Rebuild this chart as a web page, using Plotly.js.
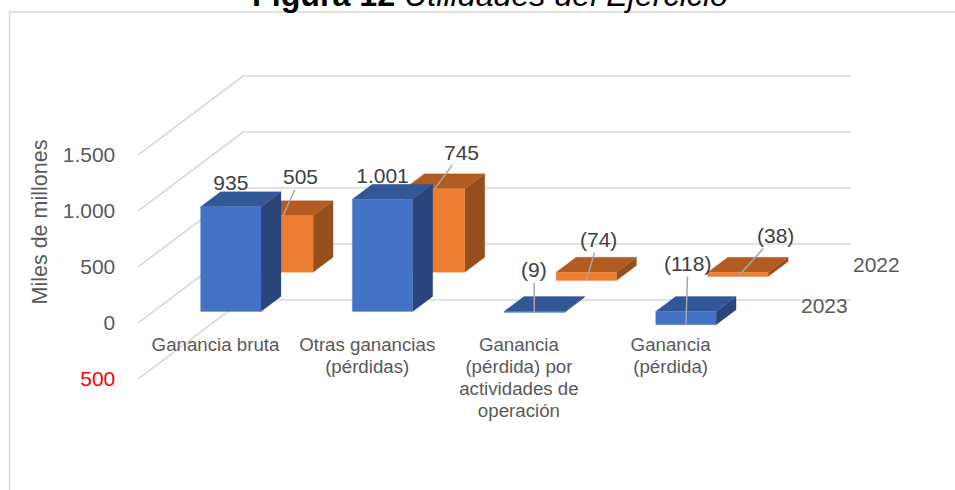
<!DOCTYPE html>
<html>
<head>
<meta charset="utf-8">
<script src="https://cdn.plot.ly/plotly-3.0.1.min.js"></script>
<style>html,body{margin:0;padding:0;background:#fff;overflow:hidden}</style>
</head>
<body>
<div id="chart" style="width:955px;height:490px"></div>
<script>
// ---- data ----
const categories = ["Ganancia bruta", "Otras ganancias<br>(pérdidas)", "Ganancia<br>(pérdida) por<br>actividades de<br>operación", "Ganancia<br>(pérdida)"];
const values2023 = [935, 1001, -9, -118];
const values2022 = [505, 745, -74, -38];
const seriesNames = ["2022", "2023"];
const gridValues = [-500, 0, 500, 1000, 1500];
const gridLabels = ['<span style="color:#ff0000">500</span>', "0", "500", "1.000", "1.500"];
const labels2023 = ["935", "1.001", "(9)", "(118)"];
const labels2022 = ["505", "745", "(74)", "(38)"];

// ---- oblique projection of the 3D column chart, in axis units ----
const PX_X = 151.7, PX_V = 0.112;        // pixels per category, pixels per value unit
const DEPTH_X = 105 / PX_X, DEPTH_V = 79 / PX_V;
const HALF = 30.2 / PX_X;
const WALL_X = (138 - 215.5) / PX_X, WALL_LEN = 608 / PX_X;
const T2023 = [0.146, 0.336], T2022 = [0.642, 0.832];
const P = (c, side, t, v) => [c + side * HALF + t * DEPTH_X, v + t * DEPTH_V];

function poly(pts, color, name) {
  pts = pts.concat([pts[0]]);
  return {type: "scatter", mode: "lines", x: pts.map(p => p[0]), y: pts.map(p => p[1]),
    fill: "toself", fillcolor: color, line: {color: color, width: 0.3},
    hoverinfo: "skip", showlegend: false, name: name};
}
function bar(c, v, T, cols, name) {
  const hi = Math.max(v, 0), lo = Math.min(v, 0), [a, b] = T;
  return [
    poly([P(c,1,a,lo), P(c,1,b,lo), P(c,1,b,hi), P(c,1,a,hi)], cols.side, name),
    poly([P(c,-1,a,hi), P(c,1,a,hi), P(c,1,b,hi), P(c,-1,b,hi)], cols.top, name),
    poly([P(c,-1,a,lo), P(c,1,a,lo), P(c,1,a,hi), P(c,-1,a,hi)], cols.front, name)
  ];
}
const BLUE = {front: "#4472c4", top: "#325796", side: "#29457a"};
const ORANGE = {front: "#ed7d31", top: "#b25c21", side: "#954f1d"};

const traces = [];
gridValues.forEach(g => {
  const a = P(WALL_X, 0, 0, g), b = P(WALL_X, 0, 1, g), c = [b[0] + WALL_LEN, b[1]];
  traces.push({type: "scatter", mode: "lines", x: [a[0], b[0], c[0]], y: [a[1], b[1], c[1]],
    line: {color: "#d9d9d9", width: 1.7}, hoverinfo: "skip", showlegend: false});
});
values2022.forEach((v, i) => traces.push(...bar(i, v, T2022, ORANGE, seriesNames[0])));
// these two labels sit behind the front bars, as in the reference
const behind = [0, 1];
traces.push({type: "scatter", mode: "text",
  x: behind.map(i => P(i, 0, T2023[0], values2023[i])[0]),
  y: behind.map(i => P(i, 0, T2023[0], values2023[i])[1] + 22 / PX_V),
  text: behind.map(i => labels2023[i]), textposition: "middle center",
  textfont: {family: "Liberation Sans", size: 21, color: "#404040"},
  hoverinfo: "skip", showlegend: false});
values2023.forEach((v, i) => traces.push(...bar(i, v, T2023, BLUE, seriesNames[1])));

// ---- leader-line labels ----
const leader = (c, v, T, text, ax, ay) => {
  const p = P(c, 0, T[0], v);
  return {x: p[0], y: p[1], xref: "x", yref: "y", text: text, showarrow: true, arrowhead: 0,
    arrowwidth: 1.5, arrowcolor: "#a6a6a6", ax: ax, ay: ay, axref: "pixel", ayref: "pixel",
    standoff: 0, font: {family: "Liberation Sans", size: 21, color: "#404040"}};
};
const offs2022 = [[18, -39], [27, -36.5], [12, -41], [37, -41]];
const offs2023 = [null, null, [0, -42.5], [2, -61]];
const annotations = [];
values2022.forEach((v, i) => annotations.push(leader(i, v, T2022, labels2022[i], offs2022[i][0], offs2022[i][1])));
values2023.forEach((v, i) => { if (offs2023[i]) annotations.push(leader(i, v, T2023, labels2023[i], offs2023[i][0], offs2023[i][1])); });

const note = (xp, yp, text, angle, size) => ({xref: "paper", yref: "paper",
  x: (xp - 138) / 817, y: (490 - yp) / 478, xanchor: "center", yanchor: "middle", text: text,
  showarrow: false, textangle: angle || 0, font: {family: "Liberation Sans", size: size || 21, color: "#595959"}});
annotations.push(note(876.5, 264, seriesNames[0]));
annotations.push(note(824.5, 305, seriesNames[1]));
annotations.push(note(40, 222.5, "Miles de millones", -90, 21.5));

const layout = {
  width: 955, height: 490,
  margin: {l: 138, r: 0, t: 12, b: 0},
  paper_bgcolor: "#fff", plot_bgcolor: "rgba(0,0,0,0)",
  showlegend: false, hovermode: false,
  title: {text: "<b>Figura 12</b> <i>Utilidades del Ejercicio</i>", x: 490 / 955, xanchor: "center",
    xref: "container", yref: "container", y: 1 - 6 / 490, yanchor: "bottom",
    font: {family: "Liberation Sans", size: 32.2, color: "#000"}},
  xaxis: {range: [(138 - 215.5) / PX_X, (955 - 215.5) / PX_X], tickmode: "array",
    tickvals: categories.map((_, i) => i), ticktext: categories, tickangle: 0,
    anchor: "free", position: (490 - 331) / 478, showgrid: false, zeroline: false, showline: false,
    ticks: "", tickfont: {family: "Liberation Sans", size: 18.7, color: "#595959"}, fixedrange: true},
  yaxis: {range: [(323 - 490) / PX_V, (323 - 12) / PX_V], tickmode: "array",
    tickvals: gridValues, ticktext: gridLabels, showgrid: false, zeroline: false, showline: false,
    ticks: "outside", ticklen: 17.5, tickcolor: "rgba(0,0,0,0)",
    tickfont: {family: "Liberation Sans", size: 21, color: "#595959"}, fixedrange: true},
  annotations: annotations,
  shapes: [{type: "path", xref: "paper", yref: "paper",
    path: `M ${(9.5 - 138) / 817} 0 L ${(9.5 - 138) / 817} 1 L 1 1`,
    line: {color: "#d9d9d9", width: 1.5}, layer: "below"}]
};
Plotly.newPlot("chart", traces, layout, {displayModeBar: false, staticPlot: true}).then(() => {
  // the reference sets its category labels with tighter line spacing than Plotly's default
  document.querySelectorAll(".xtick text").forEach(t => {
    t.querySelectorAll("tspan.line").forEach((s, i) => s.setAttribute("dy", (i * 1.18) + "em"));
  });
});
</script>
</body>
</html>
